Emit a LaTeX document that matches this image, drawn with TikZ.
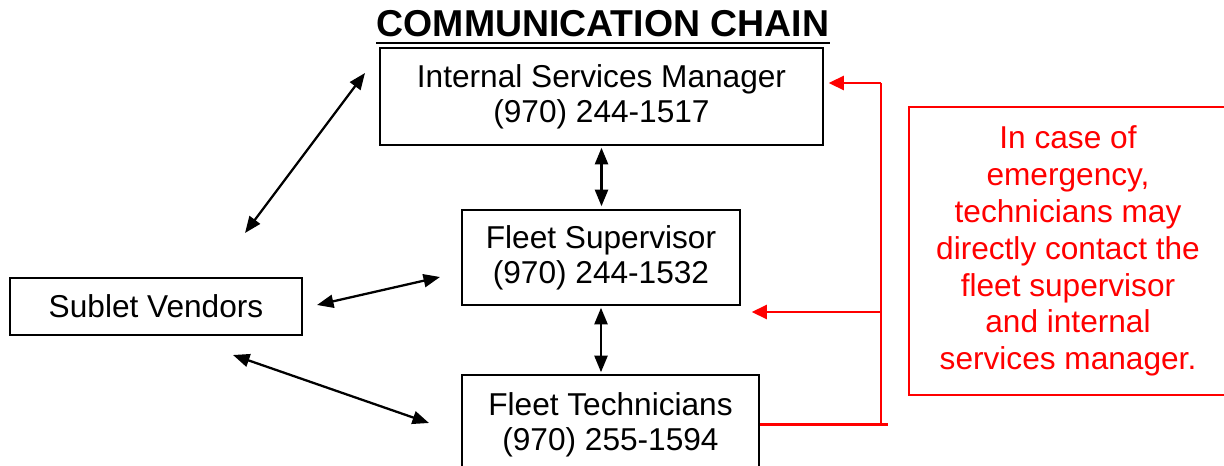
\documentclass[tikz,border=0pt]{standalone}
\usepackage{fontspec}
\setmainfont{Liberation Sans}
\usetikzlibrary{arrows.meta, calc}

\begin{document}
\begin{tikzpicture}[x=0.02cm, y=-0.02cm, every node/.style={inner sep=0pt},
  box/.style={draw=black, line width=0.9pt, align=center, font=\fontsize{18}{20}\selectfont},
  link/.style={line width=1.3pt, black, {Triangle[length=3.3mm,width=2.6mm]}-{Triangle[length=3.3mm,width=2.6mm]}},
  redline/.style={line width=1.3pt, red}]
  \useasboundingbox (0,0) rectangle (1224,466);
  % title
  \node[anchor=base, font=\fontsize{21.3}{24}\selectfont\bfseries] (title) at (603,37) {COMMUNICATION CHAIN};
  \draw[line width=1.7pt] ($(title.base west)+(0,6)$) -- ($(title.base east)+(0,6)$);

  \node[box, minimum width=8.86cm, minimum height=1.94cm] (ism) at (601.5,96.5) {Internal Services Manager\\(970) 244-1517};
  \node[box, minimum width=5.56cm, minimum height=1.9cm] (fs) at (601,257.5) {Fleet Supervisor\\(970) 244-1532};
  \node[box, minimum width=5.94cm, minimum height=1.98cm] (ft) at (610.5,424.5) {Fleet Technicians\\(970) 255-1594};
  \node[box, minimum width=5.84cm, minimum height=1.14cm] (sv) at (156,306.5) {Sublet Vendors};
  \node[draw=red, line width=1pt, text=red, align=center, font=\fontsize{18}{21}\selectfont,
        minimum width=6.36cm, minimum height=5.76cm] (note) at (1068,251)
        {In case of\\emergency,\\technicians may\\directly contact the\\fleet supervisor\\and internal\\services manager.};

  % chain
  \draw[link] ($(ism.south)+(0,2)$) -- ($(ism.south |- fs.north)+(0,-3)$);
  \draw[link] ($(fs.south)+(0,2)$) -- ($(fs.south |- ft.north)+(0,-2)$);

  % vendors
  \coordinate (svA) at (245,233);
  \coordinate (ismA) at (365,73);
  \coordinate (svB) at (317,305);
  \coordinate (fsB) at (440,277);
  \coordinate (svC) at (233,355);
  \coordinate (ftC) at (429,423);
  \draw[link] (svA) -- (ismA);
  \draw[link] (svB) -- (fsB);
  \draw[link] (svC) -- (ftC);

  % emergency path
  \coordinate (rtop) at (881,83);
  \coordinate (rbot) at (ft.east -| rtop);
  \coordinate (rmid) at (881,312);
  \draw[redline] (ft.east) -- ($(rbot)+(7,0)$);
  \draw[redline] (rbot) -- (rtop);
  \draw[redline, -{Triangle[length=3mm,width=2.8mm]}] (rtop) -- ($(rtop -| ism.east)+(5,0)$);
  \draw[redline, -{Triangle[length=3mm,width=2.8mm]}] (rmid) -- ($(rmid -| fs.east)+(11,0)$);
\end{tikzpicture}
\end{document}
